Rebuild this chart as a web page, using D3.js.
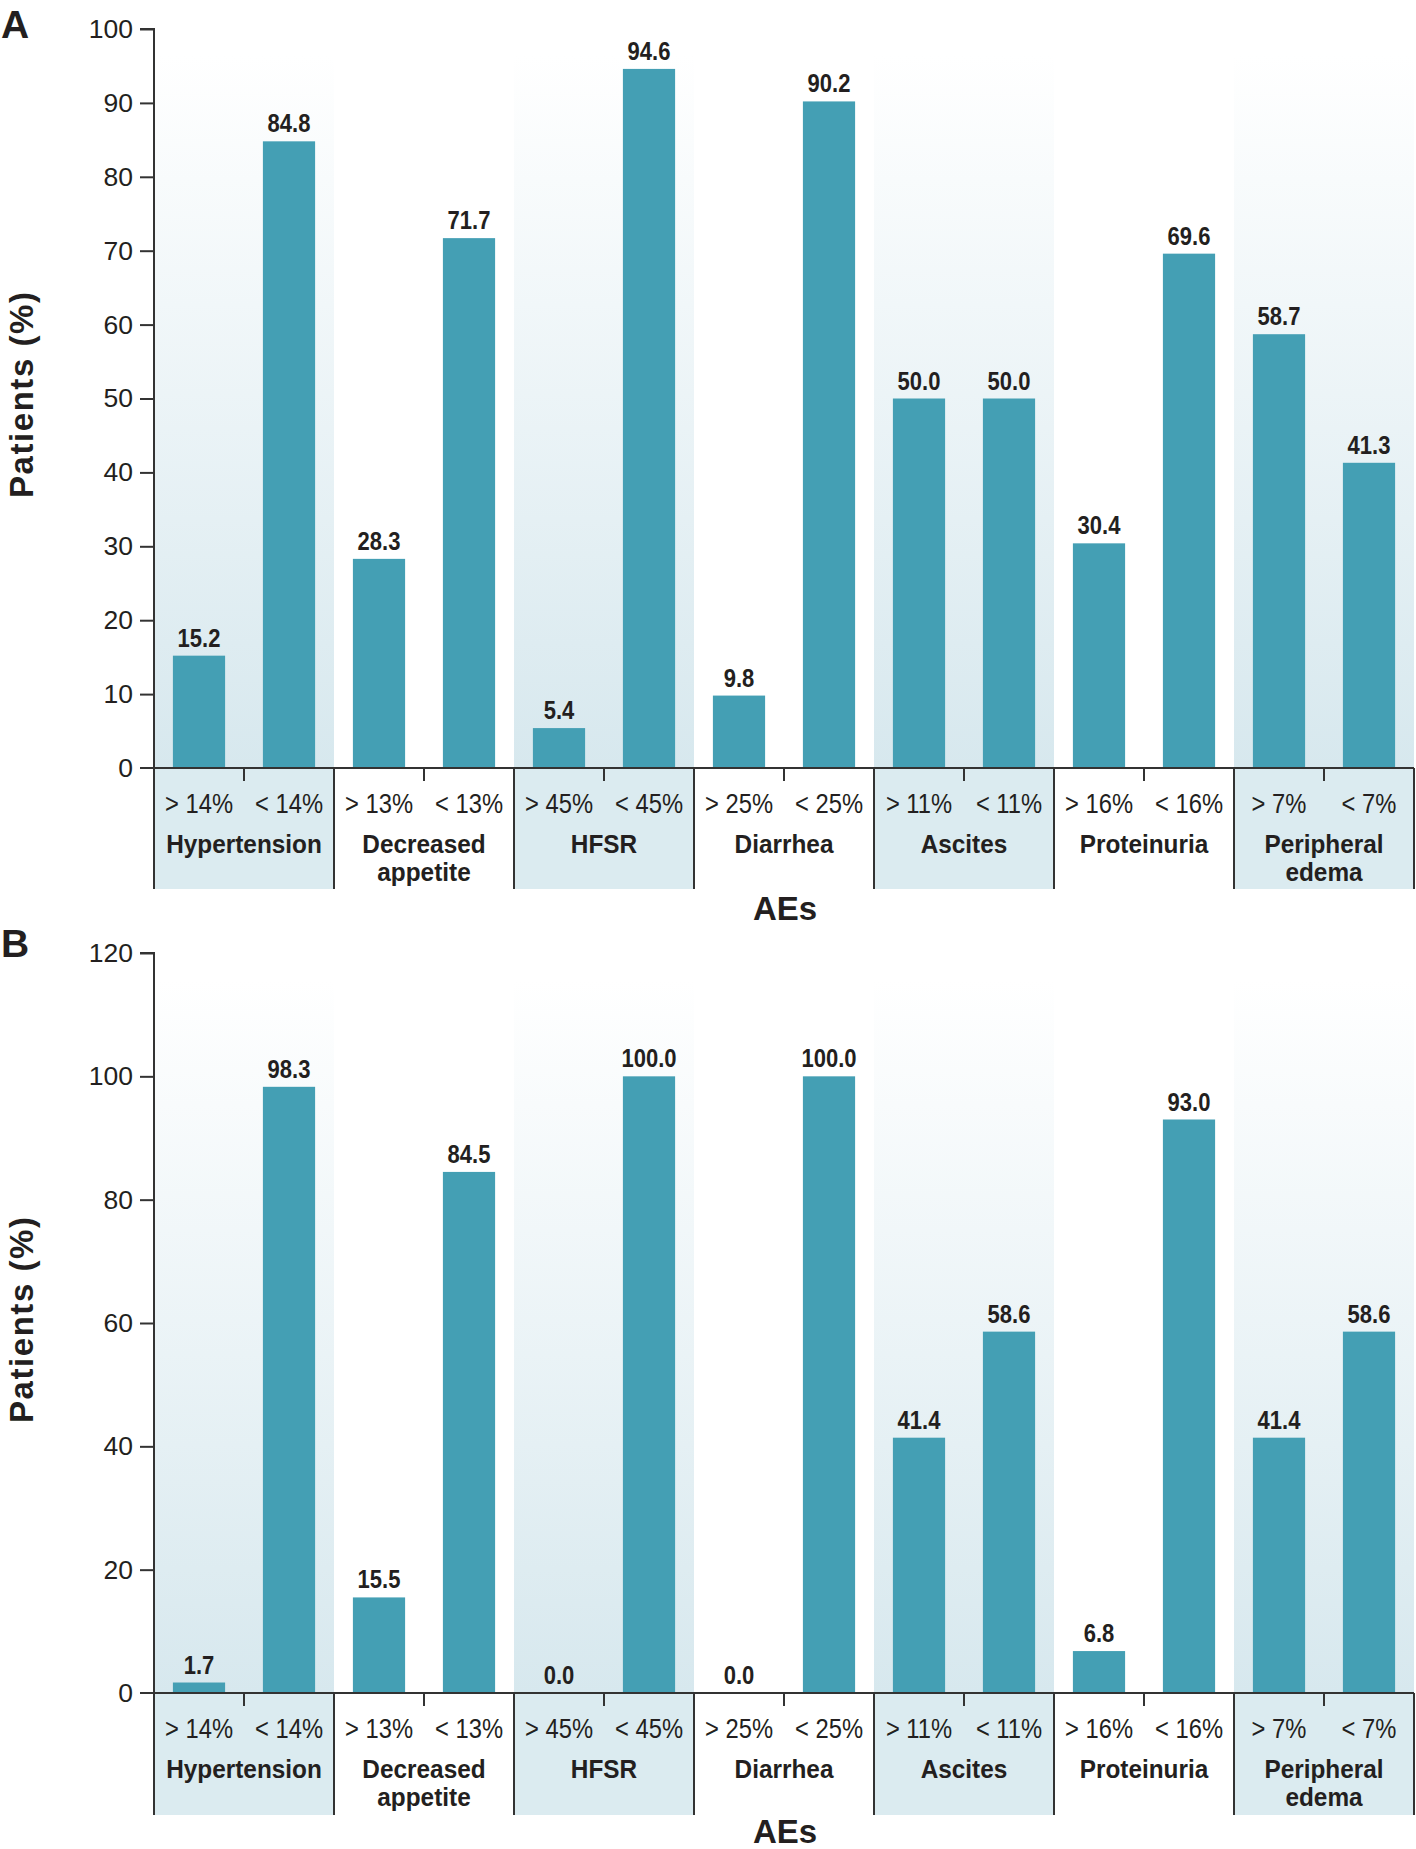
<!DOCTYPE html>
<html>
<head>
<meta charset="utf-8">
<script src="https://cdn.jsdelivr.net/npm/d3@7/dist/d3.min.js"></script>
<style>
  html, body { margin: 0; padding: 0; background: #ffffff; }
  svg { display: block; }
  .narrow { font-family: "Liberation Sans Narrow", "Arial Narrow", "Liberation Sans", Arial, sans-serif; }
  .reg { font-family: "Liberation Sans", Arial, Helvetica, sans-serif; }
</style>
</head>
<body>
<svg id="chart" width="1416" height="1849"></svg>
<script>
// ---- Data ----
const groups = ["Hypertension", "Decreased appetite", "HFSR", "Diarrhea", "Ascites", "Proteinuria", "Peripheral edema"];
const groupLines = [["Hypertension"], ["Decreased", "appetite"], ["HFSR"], ["Diarrhea"], ["Ascites"], ["Proteinuria"], ["Peripheral", "edema"]];
const thresholds = ["14%", "13%", "45%", "25%", "11%", "16%", "7%"];
const subKeys = ["above", "below"];
const valuesA_above = [15.2, 28.3, 5.4, 9.8, 50.0, 30.4, 58.7];
const valuesA_below = [84.8, 71.7, 94.6, 90.2, 50.0, 69.6, 41.3];
const valuesB_above = [1.7, 15.5, 0.0, 0.0, 41.4, 6.8, 41.4];
const valuesB_below = [98.3, 84.5, 100.0, 100.0, 58.6, 93.0, 58.6];
const ticksA = [0, 10, 20, 30, 40, 50, 60, 70, 80, 90, 100];
const ticksB = [0, 20, 40, 60, 80, 100, 120];
const yTitle = "Patients (%)";
const xTitle = "AEs";

const svg = d3.select("#chart");
const BAR = "#449fb4";
const INK = "#231f20";
const SHADE = "#dbebf0";
const SQ = 0.88; // horizontal condensing for the condensed label face

const defs = svg.append("defs");
const grad = defs.append("linearGradient").attr("id", "shadeGrad")
  .attr("x1", 0).attr("y1", 0).attr("x2", 0).attr("y2", 1);
grad.append("stop").attr("offset", "0%").attr("stop-color", "#ffffff");
grad.append("stop").attr("offset", "100%").attr("stop-color", "#d7e8ee");

function panel(opts) {
  const { letter, letterY, above, below, ticks, yMax, yTop, yZero, shadeTop, boxBottom, titleY, yTitleY } = opts;
  const g = svg.append("g");
  const x0 = 154, x1 = 1414;
  const xGroup = d3.scaleBand().domain(groups).range([x0, x1]).paddingInner(0).paddingOuter(0);
  const xSub = d3.scaleBand().domain(subKeys).range([0, xGroup.bandwidth()]).paddingInner(0.42).paddingOuter(0.21);
  const y = d3.scaleLinear().domain([0, yMax]).range([yZero, yTop]);

  const rows = groups.map((gname, i) => ({
    group: gname, i,
    bars: [
      { key: "above", label: "> " + thresholds[i], v: above[i] },
      { key: "below", label: "< " + thresholds[i], v: below[i] }
    ]
  }));

  // shaded backgrounds
  const shaded = rows.filter(d => d.i % 2 === 0);
  g.selectAll("rect.bg").data(shaded).join("rect")
    .attr("x", d => xGroup(d.group)).attr("y", shadeTop)
    .attr("width", xGroup.bandwidth()).attr("height", yZero - shadeTop)
    .attr("fill", "url(#shadeGrad)");
  g.selectAll("rect.box").data(shaded).join("rect")
    .attr("x", d => xGroup(d.group)).attr("y", yZero)
    .attr("width", xGroup.bandwidth()).attr("height", boxBottom - yZero)
    .attr("fill", SHADE);

  const gg = g.selectAll("g.grp").data(rows).join("g")
    .attr("transform", d => `translate(${xGroup(d.group)},0)`);
  // bars
  gg.selectAll("rect.bar").data(d => d.bars).join("rect")
    .attr("x", d => xSub(d.key)).attr("width", xSub.bandwidth())
    .attr("y", d => y(d.v)).attr("height", d => yZero - y(d.v))
    .attr("fill", BAR);
  // value labels
  gg.selectAll("text.val").data(d => d.bars).join("text")
    .attr("class", "narrow")
    .attr("transform", d => `translate(${xSub(d.key) + xSub.bandwidth() / 2},${y(d.v) - 9}) scale(${SQ},1)`)
    .attr("text-anchor", "middle")
    .attr("font-size", 25).attr("font-weight", "bold").attr("fill", INK)
    .text(d => d.v.toFixed(1));
  // sublabels
  gg.selectAll("text.sub").data(d => d.bars).join("text")
    .attr("class", "narrow")
    .attr("transform", d => `translate(${xSub(d.key) + xSub.bandwidth() / 2},${yZero + 45}) scale(${SQ},1)`)
    .attr("text-anchor", "middle")
    .attr("font-size", 27).attr("fill", INK)
    .text(d => d.label);
  // group names
  gg.each(function (d) {
    const lines = groupLines[d.i];
    d3.select(this).selectAll("text.gname").data(lines).join("text")
      .attr("class", "narrow")
      .attr("transform", (l, j) => `translate(${xGroup.bandwidth() / 2},${yZero + 85 + j * 28}) scale(0.92,1)`)
      .attr("text-anchor", "middle")
      .attr("font-size", 26.5).attr("font-weight", "bold").attr("fill", INK)
      .text(l => l);
  });
  // mid ticks
  gg.append("line")
    .attr("x1", xGroup.bandwidth() / 2).attr("x2", xGroup.bandwidth() / 2)
    .attr("y1", yZero).attr("y2", yZero + 13)
    .attr("stroke", "#333").attr("stroke-width", 2);
  // separators
  const seps = groups.map(gname => xGroup(gname)).concat([x1]);
  g.selectAll("line.sep").data(seps).join("line")
    .attr("x1", d => d).attr("x2", d => d)
    .attr("y1", yZero).attr("y2", boxBottom)
    .attr("stroke", "#333").attr("stroke-width", 2);

  // x baseline
  g.append("line").attr("x1", 140).attr("x2", x1).attr("y1", yZero).attr("y2", yZero)
    .attr("stroke", "#333").attr("stroke-width", 2);

  // y axis
  const yAxis = d3.axisLeft(y).tickValues(ticks).tickSize(14).tickPadding(7).tickFormat(d3.format("d"));
  const ax = g.append("g").attr("transform", `translate(${x0},0)`).call(yAxis);
  ax.select(".domain").attr("stroke", "#333").attr("stroke-width", 2)
    .attr("d", `M-14,${yTop}H0V${yZero}`);
  ax.selectAll(".tick line").attr("stroke", "#333").attr("stroke-width", 2);
  ax.selectAll(".tick text").attr("class", "reg").attr("font-size", 26.5).attr("fill", INK);
  ax.selectAll(".tick").filter(d => d === 0).select("line").remove();

  // titles
  g.append("text").attr("class", "reg")
    .attr("transform", `translate(33,${yTitleY}) rotate(-90)`)
    .attr("text-anchor", "middle").attr("font-size", 33).attr("font-weight", "bold").attr("fill", INK)
    .attr("textLength", 206).attr("lengthAdjust", "spacing")
    .text(yTitle);
  g.append("text").attr("class", "reg")
    .attr("x", 785).attr("y", titleY).attr("text-anchor", "middle")
    .attr("font-size", 33).attr("font-weight", "bold").attr("fill", INK)
    .text(xTitle);
  g.append("text").attr("class", "reg")
    .attr("x", 1).attr("y", letterY)
    .attr("font-size", 39).attr("font-weight", "bold").attr("fill", INK)
    .text(letter);
}

panel({ letter: "A", letterY: 38, above: valuesA_above, below: valuesA_below, ticks: ticksA, yMax: 100,
  yTop: 29, yZero: 768, shadeTop: 55, boxBottom: 889, titleY: 920, yTitleY: 395 });
panel({ letter: "B", letterY: 957, above: valuesB_above, below: valuesB_below, ticks: ticksB, yMax: 120,
  yTop: 953, yZero: 1693, shadeTop: 980, boxBottom: 1815, titleY: 1843, yTitleY: 1320 });
</script>
</body>
</html>
